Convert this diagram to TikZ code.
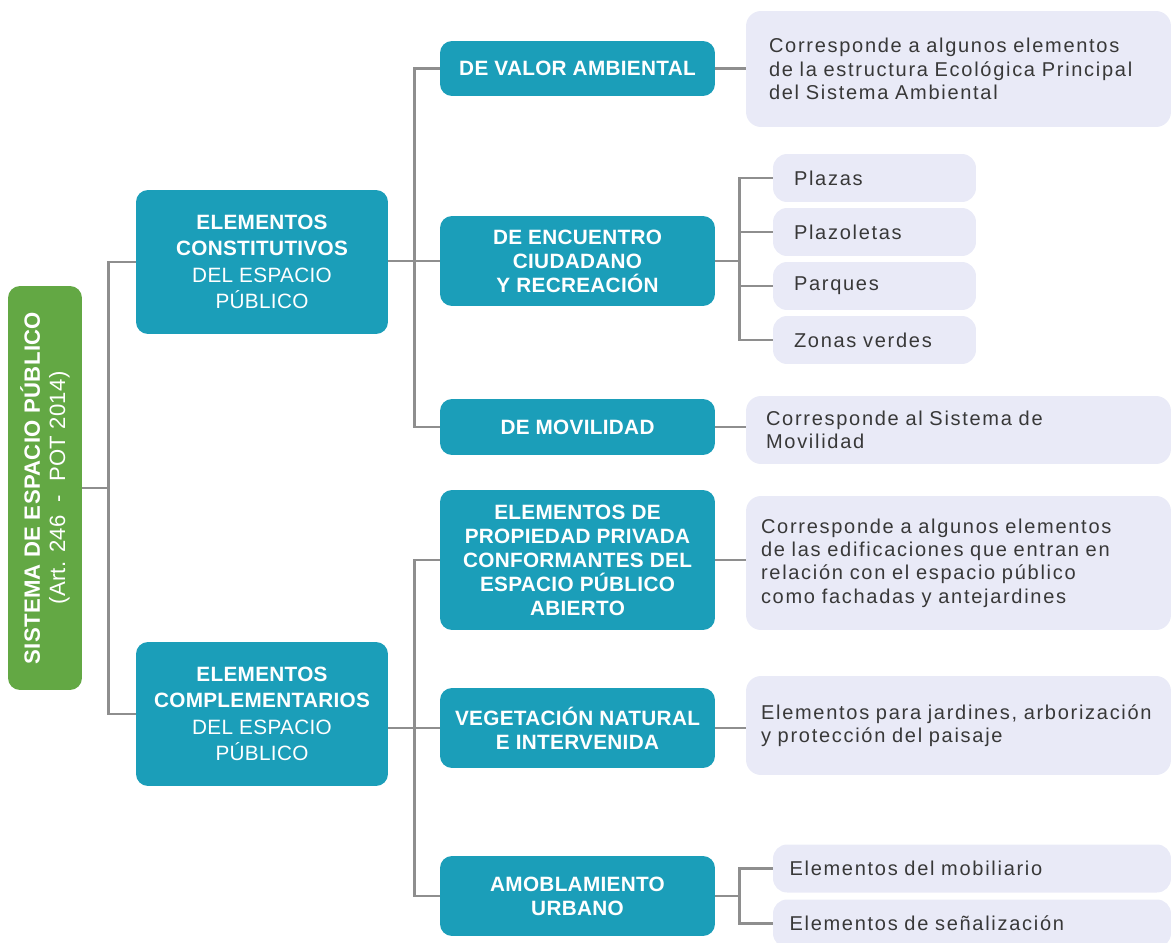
\documentclass[tikz,border=0pt]{standalone}
\usepackage{fontspec}
\setmainfont{Liberation Sans}
\newfontfamily\capsfont[LetterSpace=1.5]{Liberation Sans}
\newfontfamily\notefont[LetterSpace=8.5]{Liberation Sans}
\definecolor{espgreen}{HTML}{63A844}
\definecolor{espteal}{HTML}{1B9EB9}
\definecolor{esplilac}{HTML}{E9EAF7}
\definecolor{espline}{HTML}{8E8E8E}
\definecolor{esptext}{HTML}{383838}

\begin{document}
\begin{tikzpicture}[
    x=0.02cm, y=-0.02cm,
    rootbox/.style={fill=espgreen, rounded corners=0.24cm, rotate=90,
                    minimum width=8.08cm, minimum height=1.48cm, align=center,
                    text=white, font=\capsfont\fontsize{12.6}{14.4}\selectfont},
    catbox/.style={fill=espteal, rounded corners=0.24cm, minimum width=5.04cm,
                   minimum height=2.88cm, align=center, text=white,
                   font=\capsfont\fontsize{11.8}{15.1}\selectfont\bfseries},
    subbox/.style={fill=espteal, rounded corners=0.24cm, minimum width=5.5cm,
                   align=center, text=white, inner sep=0pt,
                   font=\capsfont\fontsize{11.8}{13.7}\selectfont\bfseries},
    descbox/.style={fill=esplilac, rounded corners=0.3cm, text width=7.9cm,
                    inner xsep=0.3cm, align=left, text=esptext,
                    font=\notefont\fontsize{11.4}{13.3}\selectfont},
    itembox/.style={fill=esplilac, rounded corners=0.28cm, minimum height=0.96cm,
                    inner xsep=0.42cm, align=left, text=esptext,
                    font=\notefont\fontsize{11.4}{13.3}\selectfont},
    link/.style={draw=espline, line width=1.4pt},
]
\useasboundingbox (0,0) rectangle (1171,943);

% Root
\node[rootbox] (root) at (45,488)
    {\textbf{SISTEMA DE ESPACIO PÚBLICO}\\(Art. 246 ~-~ POT 2014)};

% Level 1
\node[catbox] (constit) at (262,262)
    {ELEMENTOS\\CONSTITUTIVOS\\\mdseries DEL ESPACIO\\\mdseries PÚBLICO};
\node[catbox] (complem) at (262,714)
    {ELEMENTOS\\COMPLEMENTARIOS\\\mdseries DEL ESPACIO\\\mdseries PÚBLICO};

% Level 2
\node[subbox, minimum height=1.1cm] (valor) at (577.5,68.5) {DE VALOR AMBIENTAL};
\node[subbox, minimum height=1.8cm] (encuentro) at (577.5,261)
    {DE ENCUENTRO\\CIUDADANO\\Y RECREACIÓN};
\node[subbox, minimum height=1.12cm] (movil) at (577.5,427) {DE MOVILIDAD};
\node[subbox, minimum height=2.8cm] (prop) at (577.5,560)
    {ELEMENTOS DE\\PROPIEDAD PRIVADA\\CONFORMANTES DEL\\ESPACIO PÚBLICO\\ABIERTO};
\node[subbox, minimum height=1.6cm] (veg) at (577.5,728)
    {VEGETACIÓN NATURAL\\E INTERVENIDA};
\node[subbox, minimum height=1.6cm] (amob) at (577.5,896)
    {AMOBLAMIENTO\\URBANO};

% Level 3: descriptions
\node[descbox, minimum height=2.32cm, inner xsep=0.46cm, text width=7.58cm] (ambdesc) at (958.5,69)
    {Corresponde a algunos elementos\\de la estructura Ecológica Principal\\del Sistema Ambiental};
\node[descbox, minimum height=1.36cm, inner xsep=0.4cm, text width=7.7cm] (movdesc) at (958.5,430)
    {Corresponde al Sistema de\\Movilidad};
\node[descbox, minimum height=2.68cm] (propdesc) at (958.5,563)
    {Corresponde a algunos elementos\\de las edificaciones que entran en\\relación con el espacio público\\como fachadas y antejardines};
\node[descbox, minimum height=1.98cm] (vegdesc) at (958.5,725.5)
    {Elementos para jardines, arborización\\y protección del paisaje};

% Level 3: items
\node[itembox, text width=3.22cm] (plazas) at (874.5,178) {Plazas};
\node[itembox, text width=3.22cm] (plazoletas) at (874.5,232) {Plazoletas};
\node[itembox, text width=3.22cm] (parques) at (874.5,286) {Parques};
\node[itembox, text width=3.22cm] (zonas) at (874.5,340) {Zonas verdes};
\node[itembox, text width=7.3cm, inner xsep=0.33cm] (mobil) at (972,868.5) {Elementos del mobiliario};
\node[itembox, text width=7.3cm, inner xsep=0.33cm] (senal) at (972,923.5) {Elementos de señalización};

% Connectors
\draw[link] (root.south) -- ++(26,0) coordinate (trunk);
\draw[link] (trunk) |- (constit.west);
\draw[link] (trunk) |- (complem.west);

\draw[link] (encuentro.west -| constit.east) -- (encuentro.west);
\draw[link] (valor.west) -- ++(-25,0) |- (movil.west);
\draw[link] (complem.east |- veg.west) -- (veg.west);
\draw[link] (prop.west) -- ++(-25,0) |- (amob.west);

\draw[link] (valor.east) -- (valor.east -| ambdesc.west);
\draw[link] (movil.east) -- (movil.east -| movdesc.west);
\draw[link] (prop.east) -- (prop.east -| propdesc.west);
\draw[link] (veg.east) -- (veg.east -| vegdesc.west);

\draw[link] (encuentro.east) -- ++(25,0);
\draw[link] (plazas.west) -- ++(-33,0) |- (zonas.west);
\draw[link] (plazoletas.west) -- ++(-33,0);
\draw[link] (parques.west) -- ++(-33,0);

\draw[link] (amob.east) -- ++(25,0);
\draw[link] (mobil.west) -- ++(-33,0) |- (senal.west);
\end{tikzpicture}
\end{document}
